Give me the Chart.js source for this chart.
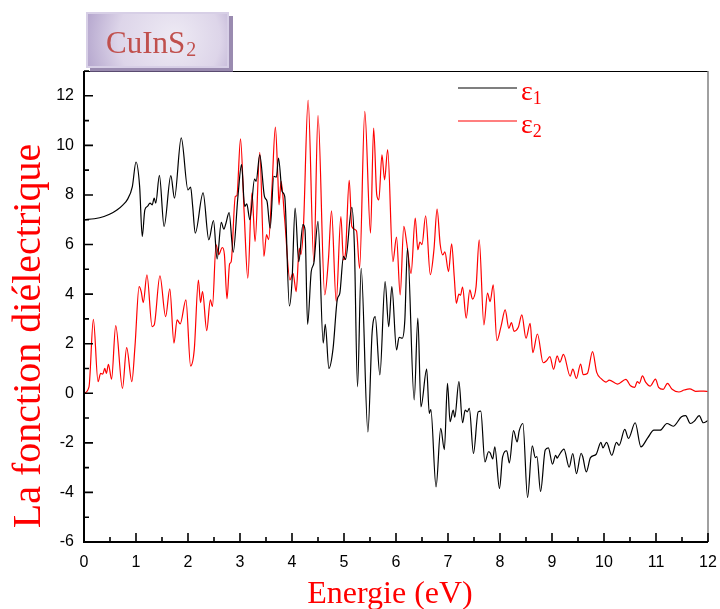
<!DOCTYPE html>
<html>
<head>
<meta charset="utf-8">
<script src="https://cdn.jsdelivr.net/npm/chart.js@4.4.1/dist/chart.umd.min.js"></script>
<style>
  html, body { margin: 0; padding: 0; background: #ffffff; }
  #wrap { width: 720px; height: 609px; position: relative; }
</style>
</head>
<body>
<div id="wrap"><canvas id="chart" width="720" height="609"></canvas></div>
<script>
// Real part of the dielectric function (epsilon 1)
const e1Energy = [
  0, 0.2, 0.385, 0.55, 0.64, 0.75, 0.83, 0.93, 1.0, 1.07, 1.12, 1.17, 1.22, 1.27, 1.31, 1.35, 1.38, 1.45, 1.54, 1.67,
  1.74, 1.87, 2.0, 2.05, 2.09, 2.14, 2.29, 2.40, 2.49, 2.56, 2.64, 2.69, 2.73, 2.79, 2.87, 2.96, 3.03, 3.09, 3.13, 3.19,
  3.28, 3.31, 3.38, 3.47, 3.52, 3.58, 3.65, 3.70, 3.74, 3.81, 3.86, 3.95, 4.00, 4.06, 4.13, 4.21, 4.25, 4.30, 4.37, 4.42,
  4.50, 4.60, 4.64, 4.71, 4.79, 4.87, 4.92, 4.99, 5.03, 5.15, 5.20, 5.26, 5.33, 5.46, 5.54, 5.60, 5.69, 5.79, 5.86, 5.92,
  6.01, 6.06, 6.12, 6.17, 6.22, 6.35, 6.42, 6.48, 6.59, 6.64, 6.67, 6.77, 6.86, 6.93, 6.99, 7.04, 7.10, 7.13, 7.21, 7.28,
  7.33, 7.37, 7.41, 7.49, 7.58, 7.63, 7.71, 7.78, 7.81, 7.86, 7.90, 7.99, 8.05, 8.13, 8.18, 8.26, 8.33, 8.37, 8.44, 8.53,
  8.62, 8.68, 8.71, 8.78, 8.87, 8.93, 9.01, 9.07, 9.10, 9.13, 9.23, 9.33, 9.40, 9.47, 9.56, 9.59, 9.66, 9.74, 9.85, 9.94,
  9.98, 10.05, 10.15, 10.24, 10.29, 10.40, 10.47, 10.60, 10.71, 10.84, 10.96, 11.08, 11.21, 11.33, 11.49, 11.57, 11.66, 11.74, 11.83, 11.91,
  12.0
];
const e1Values = [
  7.0, 7.04, 7.13, 7.28, 7.40, 7.6, 7.8, 8.34, 9.33, 8.34, 6.32, 7.40, 7.54, 7.67, 7.6, 7.87, 7.67, 8.79, 6.73, 8.78,
  7.87, 10.3, 8.2, 8.32, 7.54, 6.46, 8.08, 6.19, 6.97, 5.42, 6.89, 6.62, 6.86, 7.29, 5.69, 7.94, 9.22, 7.54, 7.64, 7.0,
  8.64, 8.55, 9.62, 7.94, 7.74, 6.66, 8.75, 8.72, 9.49, 8.14, 7.94, 3.52, 4.5, 7.47, 5.31, 6.80, 6.6, 2.78, 4.91, 5.25,
  6.93, 2.02, 2.78, 1.0, 1.81, 3.77, 4.04, 5.52, 5.4, 7.50, 5.92, 0.26, 5.04, -1.56, 2.42, 3.09, 0.74, 4.5, 2.69, 4.30,
  1.75, 2.26, 2.22, 2.96, 5.85, -0.27, 3.03, -0.55, 0.97, -0.81, -0.66, -3.78, -1.42, -2.27, 0.40, -1.15, -0.68, -0.96, 0.47, -1.19,
  -0.68, -0.75, -0.61, -2.43, -0.75, -0.72, -2.77, -2.36, -2.40, -2.65, -2.16, -3.84, -2.57, -2.32, -2.81, -1.51, -1.96, -1.51, -1.22, -4.2,
  -2.12, -2.6, -2.55, -3.96, -2.29, -2.2, -2.86, -2.5, -2.62, -2.52, -2.25, -2.98, -2.43, -3.24, -2.42, -2.55, -3.17, -2.6, -2.46, -1.98,
  -2.2, -1.98, -2.50, -1.98, -2.1, -1.46, -1.82, -1.19, -2.16, -1.8, -1.49, -1.49, -1.22, -1.33, -0.95, -0.9, -1.22, -1.12, -0.90, -1.19,
  -1.1
];

// Imaginary part of the dielectric function (epsilon 2)
const e2Energy = [
  0, 0.096, 0.18, 0.27, 0.32, 0.36, 0.40, 0.43, 0.47, 0.53, 0.61, 0.74, 0.82, 0.92, 0.98, 1.06, 1.10, 1.14, 1.21, 1.31,
  1.35, 1.46, 1.57, 1.65, 1.73, 1.79, 1.85, 1.96, 2.05, 2.12, 2.20, 2.24, 2.28, 2.36, 2.43, 2.47, 2.54, 2.59, 2.66, 2.70,
  2.75, 2.80, 2.83, 2.91, 2.94, 3.01, 3.08, 3.15, 3.23, 3.29, 3.38, 3.46, 3.51, 3.55, 3.615, 3.68, 3.73, 3.75, 3.79, 3.86,
  3.96, 4.02, 4.08, 4.14, 4.17, 4.22, 4.31, 4.42, 4.50, 4.63, 4.70, 4.76, 4.85, 4.94, 4.99, 5.03, 5.10, 5.15, 5.24, 5.30,
  5.40, 5.51, 5.57, 5.63, 5.67, 5.73, 5.78, 5.84, 5.94, 6.01, 6.08, 6.15, 6.21, 6.29, 6.37, 6.42, 6.46, 6.50, 6.57, 6.66,
  6.73, 6.79, 6.85, 6.90, 6.94, 7.01, 7.07, 7.12, 7.16, 7.21, 7.24, 7.28, 7.35, 7.42, 7.47, 7.54, 7.60, 7.69, 7.76, 7.81,
  7.87, 7.94, 8.02, 8.10, 8.17, 8.22, 8.27, 8.35, 8.42, 8.50, 8.58, 8.63, 8.72, 8.83, 8.89, 8.96, 9.03, 9.10, 9.15, 9.22,
  9.35, 9.40, 9.47, 9.55, 9.60, 9.68, 9.78, 9.86, 9.95, 10.04, 10.1, 10.26, 10.42, 10.51, 10.59, 10.64, 10.68, 10.74, 10.80, 10.89,
  10.99, 11.05, 11.14, 11.22, 11.31, 11.44, 11.54, 11.65, 11.76, 11.92, 12.0
];
const e2Values = [
  0.0, 0.26, 2.98, 0.47, 0.80, 0.77, 1.0, 0.8, 1.17, 0.57, 2.73, 0.2, 1.84, 0.47, 1.88, 4.30, 4.1, 3.66, 4.78, 2.69,
  2.75, 4.74, 3.09, 4.21, 2.02, 2.96, 2.8, 3.77, 1.1, 1.75, 4.57, 3.66, 4.10, 2.53, 3.77, 3.5, 5.99, 5.6, 5.88, 5.6,
  3.81, 5.22, 5.3, 7.94, 7.97, 10.26, 7.27, 4.64, 8.08, 6.12, 9.72, 5.52, 6.4, 6.2, 8.28, 10.74, 8.61, 7.6, 8.55, 7.0,
  4.57, 4.84, 4.10, 5.85, 5.6, 6.73, 11.82, 5.31, 11.2, 3.97, 5.38, 7.36, 3.70, 7.13, 5.38, 5.7, 8.59, 6.73, 6.55, 5.04,
  11.37, 6.46, 10.70, 8.0, 7.80, 9.62, 8.61, 9.83, 5.31, 6.3, 3.97, 6.73, 6.0, 4.84, 7.07, 5.79, 6.1, 6.0, 7.16, 4.78,
  5.8, 7.43, 6.0, 5.58, 5.7, 4.91, 6.03, 4.7, 3.63, 4.0, 3.95, 4.28, 3.03, 4.17, 3.8, 4.30, 6.19, 2.76, 4.04, 3.7,
  4.37, 2.12, 2.7, 3.36, 2.62, 2.85, 2.5, 2.65, 3.16, 2.22, 2.82, 1.64, 2.39, 1.23, 1.3, 1.48, 0.97, 1.51, 1.25, 1.57,
  0.69, 0.97, 0.6, 1.18, 0.75, 0.8, 1.68, 0.84, 0.58, 0.45, 0.53, 0.37, 0.56, 0.3, 0.24, 0.47, 0.4, 0.70, 0.45, 0.29,
  0.57, 0.24, 0.16, 0.4, 0.16, 0.05, 0.13, 0.18, 0.08, 0.09, 0.07
];

// Axis ticks
const xTicks = [0, 1, 2, 3, 4, 5, 6, 7, 8, 9, 10, 11, 12];
const yTicks = [-6, -4, -2, 0, 2, 4, 6, 8, 10, 12];

const seriesNames = ['\u03B5', '\u03B5'];
const seriesSubs = ['1', '2'];
const sampleName = 'CuInS';
const sampleSub = '2';
const xTitle = 'Energie (eV)';
const yTitle = 'La fonction di\u00E9lectrique';

const toPoints = (xs, ys) => xs.map((x, i) => ({ x: x, y: ys[i] }));

const SERIF = '"Liberation Serif", "Times New Roman", serif';
const SANS = '"Liberation Sans", Arial, sans-serif';

const decor = {
  id: 'decor',
  beforeDraw(chart) {
    const ctx = chart.ctx;
    ctx.save();
    ctx.fillStyle = '#ffffff';
    ctx.fillRect(0, 0, chart.width, chart.height);
    ctx.restore();
  },
  afterDraw(chart) {
    const ctx = chart.ctx;
    const a = chart.chartArea;
    const xs = chart.scales.x, ys = chart.scales.y;
    ctx.save();

    // frame: top black, right gray
    ctx.strokeStyle = '#000000';
    ctx.lineWidth = 1.2;
    ctx.beginPath();
    ctx.moveTo(a.left, a.top + 0.5);
    ctx.lineTo(a.right, a.top + 0.5);
    ctx.stroke();
    ctx.strokeStyle = '#808080';
    ctx.lineWidth = 1.5;
    ctx.beginPath();
    ctx.moveTo(a.right, a.top);
    ctx.lineTo(a.right, a.bottom);
    ctx.stroke();

    // left and bottom axes
    ctx.strokeStyle = '#000000';
    ctx.lineWidth = 2;
    ctx.beginPath();
    ctx.moveTo(a.left, a.top);
    ctx.lineTo(a.left, a.bottom);
    ctx.lineTo(a.right, a.bottom);
    ctx.stroke();

    // inward ticks
    ctx.lineWidth = 1.6;
    ctx.beginPath();
    xTicks.forEach(v => {
      const p = xs.getPixelForValue(v);
      ctx.moveTo(p, a.bottom); ctx.lineTo(p, a.bottom - 9);
      if (v < 12) {
        const m = xs.getPixelForValue(v + 0.5);
        ctx.moveTo(m, a.bottom); ctx.lineTo(m, a.bottom - 5);
      }
    });
    yTicks.forEach(v => {
      const p = ys.getPixelForValue(v);
      ctx.moveTo(a.left, p); ctx.lineTo(a.left + 9, p);
      const m = ys.getPixelForValue(v + 1);
      ctx.moveTo(a.left, m); ctx.lineTo(a.left + 5, m);
    });
    ctx.stroke();

    // axis titles
    ctx.fillStyle = '#ff0000';
    ctx.font = '32px ' + SERIF;
    ctx.textAlign = 'center';
    ctx.textBaseline = 'alphabetic';
    ctx.fillText(xTitle, 390, 603);
    ctx.save();
    ctx.translate(40, 336);
    ctx.rotate(-Math.PI / 2);
    ctx.font = '40px ' + SERIF;
    ctx.fillText(yTitle, 0, 0);
    ctx.restore();

    // legend
    const legendY = [88, 121];
    const colors = ['#000000', '#ff0000'];
    legendY.forEach((y, i) => {
      ctx.strokeStyle = colors[i];
      ctx.lineWidth = 1.2;
      ctx.beginPath();
      ctx.moveTo(458, y); ctx.lineTo(517, y);
      ctx.stroke();
      ctx.fillStyle = '#ff0000';
      ctx.textAlign = 'left';
      ctx.font = '28px ' + SERIF;
      ctx.fillText(seriesNames[i], 521, y + 12);
      const w = ctx.measureText(seriesNames[i]).width;
      ctx.font = '18px ' + SERIF;
      ctx.fillText(seriesSubs[i], 521 + w, y + 16);
    });

    // sample label box
    const bx = 86, by = 12, bw = 143, bh = 56;
    ctx.fillStyle = 'rgba(120, 100, 150, 0.75)';
    ctx.fillRect(bx + 4, by + 4, bw, bh);
    const g = ctx.createRadialGradient(bx + bw * 0.62, by + bh * 0.45, 5, bx + bw * 0.55, by + bh * 0.5, bw * 0.62);
    g.addColorStop(0, '#ece8f3');
    g.addColorStop(0.55, '#ddd5e9');
    g.addColorStop(1, '#ad9dc8');
    ctx.fillStyle = g;
    ctx.fillRect(bx, by, bw, bh);
    ctx.strokeStyle = '#d7cfe6';
    ctx.lineWidth = 2;
    ctx.strokeRect(bx + 1, by + 1, bw - 2, bh - 2);
    ctx.fillStyle = '#c0504d';
    ctx.font = '31px ' + SERIF;
    ctx.textAlign = 'left';
    ctx.fillText(sampleName, 106, 53);
    const sw = ctx.measureText(sampleName).width;
    ctx.font = '20px ' + SERIF;
    ctx.fillText(sampleSub, 106 + sw + 1, 56);

    ctx.restore();
  }
};

new Chart(document.getElementById('chart'), {
  type: 'line',
  data: {
    datasets: [
      {
        label: 'e1',
        data: toPoints(e1Energy, e1Values),
        borderColor: '#000000',
        borderWidth: 1.2,
        pointRadius: 0,
        cubicInterpolationMode: 'monotone',
        fill: false
      },
      {
        label: 'e2',
        data: toPoints(e2Energy, e2Values),
        borderColor: '#ff0000',
        borderWidth: 1.2,
        pointRadius: 0,
        cubicInterpolationMode: 'monotone',
        fill: false
      }
    ]
  },
  options: {
    responsive: false,
    animation: false,
    devicePixelRatio: 1,
    layout: { padding: { left: 0, top: 71, right: 12, bottom: 0 } },
    plugins: { legend: { display: false }, tooltip: { enabled: false }, title: { display: false } },
    scales: {
      x: {
        type: 'linear',
        min: 0, max: 12,
        afterBuildTicks: s => { s.ticks = xTicks.map(v => ({ value: v })); },
        afterFit: s => { s.height = 67; s.paddingLeft = 0; s.paddingRight = 0; },
        grid: { display: false },
        border: { display: false },
        ticks: { color: '#000000', font: { family: SANS, size: 16 }, padding: 3, maxRotation: 0 }
      },
      y: {
        type: 'linear',
        min: -6, max: 13,
        afterBuildTicks: s => { s.ticks = yTicks.map(v => ({ value: v })); },
        afterFit: s => { s.width = 84; s.paddingTop = 0; s.paddingBottom = 0; },
        grid: { display: false },
        border: { display: false },
        ticks: { color: '#000000', font: { family: SANS, size: 16 }, padding: 2 }
      }
    }
  },
  plugins: [decor]
});
</script>
</body>
</html>
